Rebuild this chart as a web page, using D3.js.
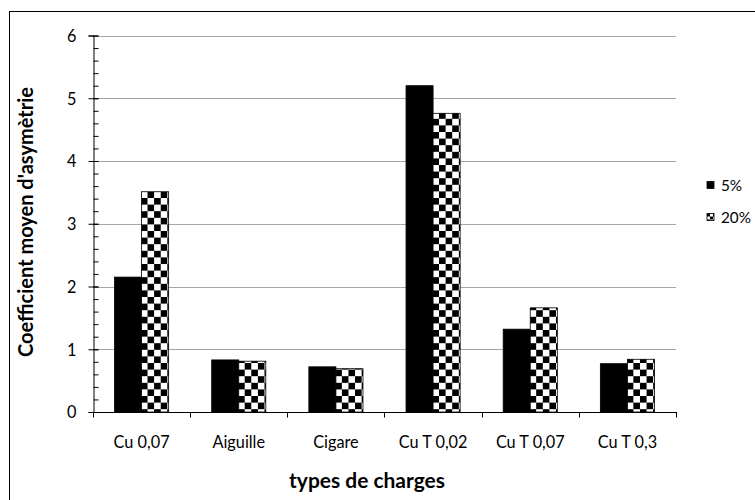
<!DOCTYPE html>
<html>
<head>
<meta charset="utf-8">
<script src="https://cdn.jsdelivr.net/npm/d3@7"></script>
<style>
  html, body { margin: 0; padding: 0; background: #fff; }
  svg { display: block; }
  text { font-family: Lato, "Open Sans", sans-serif; fill: #000; }
</style>
</head>
<body>
<svg id="chart" width="755" height="500"></svg>
<script>
const categories = ["Cu 0,07", "Aiguille", "Cigare", "Cu T 0,02", "Cu T 0,07", "Cu T 0,3"];
const seriesNames = ["5%", "20%"];
const values5 = [2.15, 0.83, 0.72, 5.20, 1.32, 0.77];
const values20 = [3.51, 0.81, 0.69, 4.76, 1.66, 0.84];
const yTicks = [0, 1, 2, 3, 4, 5, 6];
const yMinorTicks = d3.range(0, 6.001, 0.2).map(v => +v.toFixed(1));
const yTitle = "Coefficient moyen d'asymètrie";
const xTitle = "types de charges";

const seriesValues = [values5, values20];
const data = categories.map((c, i) => ({ cat: c, vals: seriesNames.map((s, j) => ({ s, v: seriesValues[j][i] })) }));

const svg = d3.select("#chart");

// size a font so that a sample string reaches a target width
function fitSize(sample, target, weight) {
  const t = svg.append("text").style("font-size", "20px").style("font-weight", weight || "normal").text(sample);
  const w = t.node().getComputedTextLength();
  t.remove();
  return 20 * target / w;
}
const tickFs = fitSize("Cu 0,07", 56);
const yTitleFs = fitSize(yTitle, 270, "bold");
const xTitleFs = fitSize(xTitle, 156, "bold");
const legFs = fitSize("20%", 30);

// pattern
const defs = svg.append("defs");
const sq = 6.6;
const pat = defs.append("pattern").attr("id", "checker")
  .attr("patternUnits", "userSpaceOnUse").attr("width", sq * 2).attr("height", sq * 2);
pat.append("rect").attr("width", sq * 2).attr("height", sq * 2).attr("fill", "#fff");
pat.append("rect").attr("x", 0).attr("y", 0).attr("width", sq).attr("height", sq).attr("fill", "#000");
pat.append("rect").attr("x", sq).attr("y", sq).attr("width", sq).attr("height", sq).attr("fill", "#000");

const lpat = defs.append("pattern").attr("id", "checkerSmall")
  .attr("patternUnits", "userSpaceOnUse").attr("width", 6).attr("height", 6);
lpat.append("rect").attr("width", 6).attr("height", 6).attr("fill", "#fff");
lpat.append("rect").attr("width", 3).attr("height", 3).attr("fill", "#000");
lpat.append("rect").attr("x", 3).attr("y", 3).attr("width", 3).attr("height", 3).attr("fill", "#000");

// outer frame
svg.append("rect").attr("x", 9.5).attr("y", 11.5).attr("width", 900).attr("height", 900)
  .attr("fill", "none").attr("stroke", "#000").attr("stroke-width", 1);

const x0 = d3.scaleBand().domain(categories).range([93, 676]).paddingInner(0.443).paddingOuter(0.2215);
const x1 = d3.scaleBand().domain(seriesNames).range([0, x0.bandwidth()]).padding(0);
const y = d3.scaleLinear().domain([0, 6]).range([412, 35.5]);
const fills = { "5%": "#000", "20%": "url(#checker)" };

// gridlines
svg.append("g").selectAll("line").data(yTicks.filter(t => t > 0)).join("line")
  .attr("x1", 93).attr("x2", 676)
  .attr("y1", d => Math.round(y(d)) + 0.5).attr("y2", d => Math.round(y(d)) + 0.5)
  .attr("stroke", "#A6A6A6").attr("stroke-width", 1);

// bars
const g = svg.append("g");
const groups = g.selectAll("g").data(data).join("g")
  .attr("transform", d => `translate(${x0(d.cat)},0)`);
groups.selectAll("rect").data(d => d.vals).join("rect")
  .attr("x", d => x1(d.s))
  .attr("y", d => y(d.v))
  .attr("width", x1.bandwidth())
  .attr("height", d => y(0) - y(d.v))
  .attr("fill", d => fills[d.s])
  .attr("stroke", "#000").attr("stroke-width", 0.8);

// y axis
const yAxis = svg.append("g").attr("transform", "translate(93.5,0)")
  .call(d3.axisLeft(y).tickValues(yTicks).tickSize(5).tickPadding(12).tickFormat(d3.format("d")));
yAxis.select(".domain").attr("stroke", "#000");
yAxis.selectAll("text").style("font-size", tickFs + "px").attr("dy", "0.36em");
yAxis.selectAll(".tick line").attr("stroke", "#000").attr("x2", -5).attr("x1", 5);
const yMinor = svg.append("g").attr("transform", "translate(93.5,0)")
  .call(d3.axisRight(y).tickValues(yMinorTicks).tickSize(5).tickFormat(""));
yMinor.select(".domain").remove();
yMinor.selectAll(".tick line").attr("stroke", "#000");

// x axis
const xAxis = svg.append("g").attr("transform", "translate(0,412.5)")
  .call(d3.axisBottom(x0).tickSize(0).tickPadding(0));
xAxis.select(".domain").attr("stroke", "#000").attr("d", "M93,0H676");
xAxis.selectAll("text").style("font-size", tickFs + "px").attr("dy", null).attr("y", 35);
const boundaries = categories.map(c => x0(c) - x0.step() * x0.paddingInner() / 2).concat([676]);
svg.append("g").selectAll("line").data(boundaries).join("line")
  .attr("x1", d => Math.round(d) + 0.5).attr("x2", d => Math.round(d) + 0.5)
  .attr("y1", 412).attr("y2", 417.5).attr("stroke", "#000");

// titles
svg.append("text").attr("transform", "translate(33,222) rotate(-90)")
  .attr("text-anchor", "middle").style("font-size", yTitleFs + "px").style("font-weight", "bold").text(yTitle);
svg.append("text").attr("x", 367).attr("y", 488)
  .attr("text-anchor", "middle").style("font-size", xTitleFs + "px").style("font-weight", "bold").text(xTitle);

// legend
const leg = svg.append("g").selectAll("g").data(seriesNames).join("g")
  .attr("transform", (d, i) => `translate(707,${181.5 + i * 32})`);
leg.append("rect").attr("width", 7).attr("height", 7)
  .attr("fill", d => d === "5%" ? "#000" : "url(#checkerSmall)")
  .attr("stroke", "#000").attr("stroke-width", 0.8);
leg.append("text").attr("x", 14).attr("y", 9.5).style("font-size", legFs + "px").text(d => d);
</script>
</body>
</html>
